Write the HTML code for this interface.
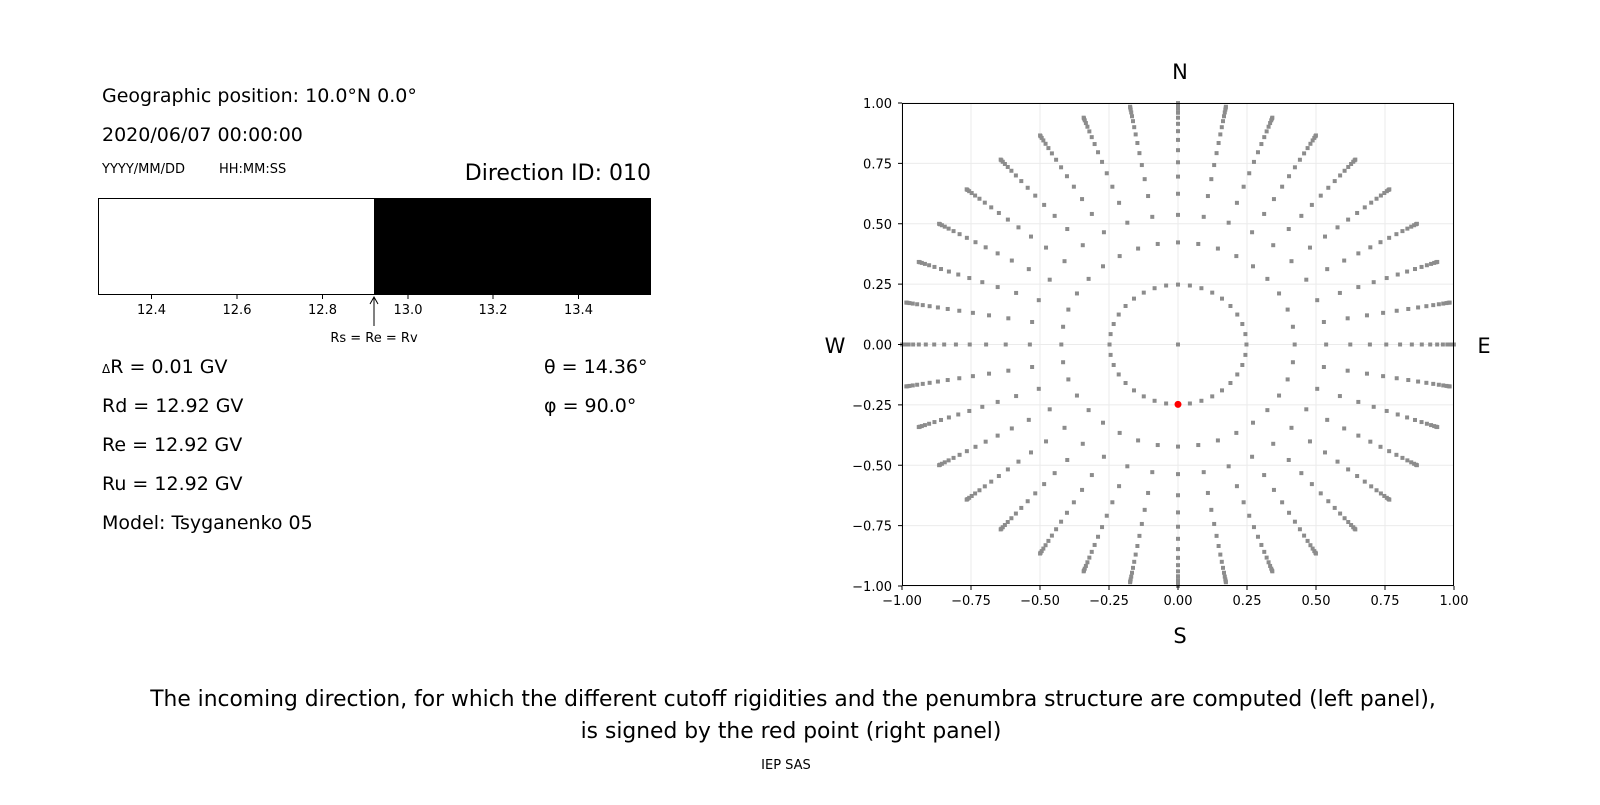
<!DOCTYPE html>
<html><head><meta charset="utf-8"><style>
html,body{margin:0;padding:0;background:#fff;}
svg text{font-family:"DejaVu Sans","Liberation Sans",sans-serif;fill:#000;}
</style></head><body>
<svg id="s" width="1600" height="800" viewBox="0 0 1600 800" xmlns="http://www.w3.org/2000/svg">
<rect width="1600" height="800" fill="#fff"/>
<text x="102" y="102" font-size="19">Geographic position: 10.0°N 0.0°</text>
<text x="102" y="141" font-size="19">2020/06/07 00:00:00</text>
<text x="102" y="173" font-size="13">YYYY/MM/DD</text>
<text x="219" y="173" font-size="13">HH:MM:SS</text>
<text x="651" y="180" font-size="22" text-anchor="end">Direction ID: 010</text>
<rect x="98.5" y="198.5" width="552" height="96" fill="#fff" stroke="#000" stroke-width="1"/>
<rect x="374" y="198" width="277" height="97" fill="#000"/>
<g stroke="#000" stroke-width="1">
<line x1="151.5" y1="295" x2="151.5" y2="299"/><line x1="237" y1="295" x2="237" y2="299"/><line x1="322.5" y1="295" x2="322.5" y2="299"/><line x1="408" y1="295" x2="408" y2="299"/><line x1="493" y1="295" x2="493" y2="299"/><line x1="578.5" y1="295" x2="578.5" y2="299"/>
<line x1="374" y1="298" x2="374" y2="326"/>
</g>
<path d="M370,304 L374,297 L378,304" fill="none" stroke="#000" stroke-width="1"/>
<g font-size="13" text-anchor="middle">
<text x="151.5" y="314">12.4</text><text x="237" y="314">12.6</text><text x="322.5" y="314">12.8</text><text x="408" y="314">13.0</text><text x="493" y="314">13.2</text><text x="578.5" y="314">13.4</text>
<text x="374" y="342">Rs = Re = Rv</text>
</g>
<g font-size="19">
<text x="102" y="373"><tspan font-size="12">Δ</tspan>R = 0.01 GV</text>
<text x="102" y="412">Rd = 12.92 GV</text>
<text x="102" y="451">Re = 12.92 GV</text>
<text x="102" y="490">Ru = 12.92 GV</text>
<text x="102" y="529">Model: Tsyganenko 05</text>
<text x="544" y="373">θ = 14.36°</text>
<text x="544" y="412">φ = 90.0°</text>
</g>
<g id="grid" stroke="#ebebeb" stroke-width="1"></g>
<g id="dots" fill="#8c8c8c"></g>
<circle cx="1178" cy="404.4" r="3.5" fill="#ff0000"/>
<rect x="902.5" y="103.5" width="551" height="482" fill="none" stroke="#000" stroke-width="1"/>
<g id="ticks" stroke="#000"></g>
<g id="tl" font-size="13"></g>
<g font-size="21" text-anchor="middle">
<text x="1180" y="79">N</text><text x="1180" y="643">S</text><text x="835" y="353">W</text><text x="1484" y="353">E</text>
</g>
<g font-size="21.8" text-anchor="middle">
<text x="793" y="706">The incoming direction, for which the different cutoff rigidities and the penumbra structure are computed (left panel),</text>
<text x="791" y="738">is signed by the red point (right panel)</text>
</g>
<text x="786" y="769" font-size="13" text-anchor="middle">IEP SAS</text>
<script>
(function(){
var ns="http://www.w3.org/2000/svg";
function el(t,a,p){var e=document.createElementNS(ns,t);for(var k in a)e.setAttribute(k,a[k]);document.getElementById(p).appendChild(e);return e;}
var x0=902,x1=1454,y0=586,y1=103;
function X(v){return x0+(v+1)/2*(x1-x0);} function Y(v){return y0-(v+1)/2*(y0-y1);}
var vals=[-1,-0.75,-0.5,-0.25,0,0.25,0.5,0.75,1];
var labs=["−1.00","−0.75","−0.50","−0.25","0.00","0.25","0.50","0.75","1.00"];
vals.forEach(function(v,i){
 el("line",{x1:X(v),y1:y1,x2:X(v),y2:y0},"grid");
 el("line",{x1:x0,y1:Y(v),x2:x1,y2:Y(v)},"grid");
 el("line",{x1:X(v),y1:586,x2:X(v),y2:590},"ticks");
 el("line",{x1:898,y1:Y(v),x2:902,y2:Y(v)},"ticks");
 var t=el("text",{x:X(v),y:605,"text-anchor":"middle"},"tl");t.textContent=labs[i];
 var t2=el("text",{x:892,y:Y(v)+5,"text-anchor":"end"},"tl");t2.textContent=labs[i];
});
el("rect",{x:X(0)-2,y:Y(0)-2,width:4,height:4},"dots");
for(var k=0;k<16;k++){
 var c=1-(2*k+1)/32,r=Math.sqrt(1-c*c);
 for(var j=0;j<36;j++){
  var a=j*10*Math.PI/180;
  var px=X(r*Math.sin(a)),py=Y(r*Math.cos(a));
  el("rect",{x:px-2,y:py-2,width:4,height:4},"dots");
 }
}
})();
</script>
</svg>
</body></html>
